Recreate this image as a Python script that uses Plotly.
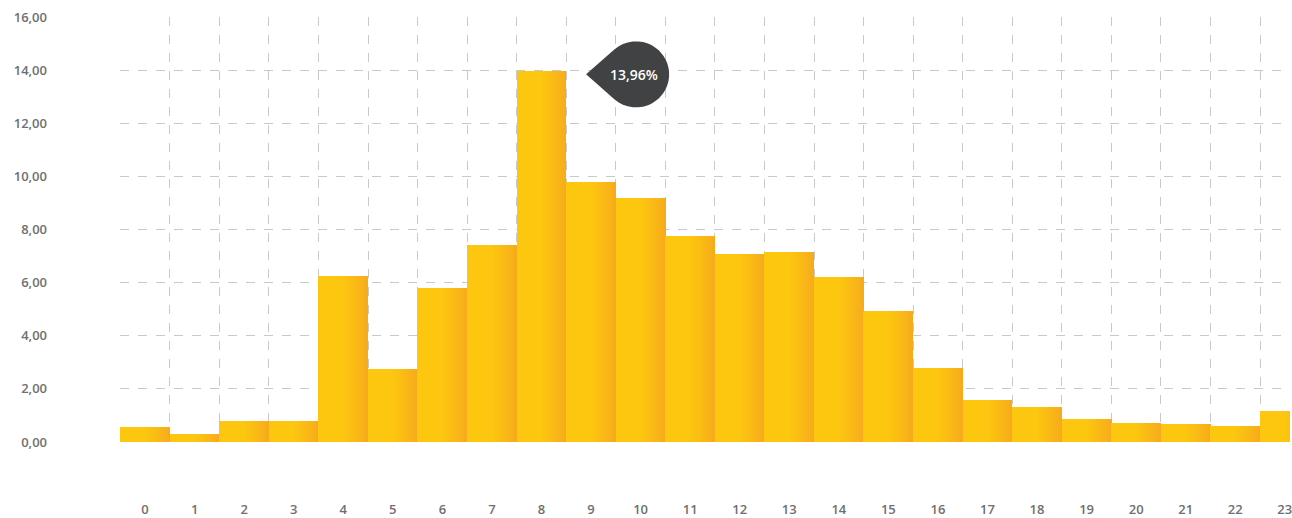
import numpy as np
import plotly.graph_objects as go

hours = list(range(24))
hour_labels = [str(h) for h in hours]
values = [0.56, 0.31, 0.80, 0.80, 6.24, 2.73, 5.81, 7.41, 13.96, 9.80, 9.17, 7.77,
          7.07, 7.14, 6.22, 4.94, 2.80, 1.59, 1.32, 0.86, 0.72, 0.67, 0.59, 1.17]
y_ticks = [0, 2, 4, 6, 8, 10, 12, 14, 16]
y_tick_text = ["0,00", "2,00", "4,00", "6,00", "8,00", "10,00", "12,00", "14,00", "16,00"]
peak_label = "13,96%"

peak_idx = int(np.argmax(values))

fig = go.Figure()

# horizontal gradient imitation: overlaid layers, left-aligned, narrowing
dark = np.array([0xF6, 0xAA, 0x1C])
light = np.array([0xFD, 0xC6, 0x0F])
n_layers = 18
for k in range(n_layers):
    frac = k / (n_layers - 1)
    w = 1.006 - 0.5 * frac
    c = dark + (light - dark) * frac ** 0.8
    fig.add_trace(go.Bar(
        x=hours, y=values, width=w, offset=-0.503,
        marker=dict(color="rgb(%d,%d,%d)" % tuple(int(round(v)) for v in c), line=dict(width=0)),
        hoverinfo="skip", showlegend=False,
    ))

# teardrop callout (pixel-sized, anchored in data coords)
tip_dx = 0.9
cx, r = 50.0, 33.0
th = np.arccos(r / cx)
angs = np.linspace(np.pi - th, -(np.pi - th), 60)
pts = [(cx + r * np.cos(-a), r * np.sin(-a)) for a in angs]
path = "M 0,0 " + " ".join(f"L {px:.2f},{py:.2f}" for px, py in pts) + " Z"
fig.add_shape(
    type="path", path=path,
    xsizemode="pixel", ysizemode="pixel",
    xanchor=peak_idx + tip_dx, yanchor=values[peak_idx] - 0.12,
    xref="x", yref="y",
    fillcolor="#414243", line=dict(width=0), layer="above",
)
fig.add_annotation(
    x=peak_idx + tip_dx, y=values[peak_idx] - 0.12, xref="x", yref="y",
    text=peak_label, showarrow=False, xshift=cx - 2, xanchor="center", yanchor="middle",
    font=dict(family="Open Sans", size=14, color="white", weight=600),
)

grid_col = "#c9c9c9"
tick_font = dict(family="Open Sans", size=13, color="#6f6f6f", weight=600)
fig.update_xaxes(
    range=[-0.506, 23.105],
    tickmode="array", tickvals=hours, ticktext=hour_labels,
    showgrid=False, zeroline=False, showline=False, ticks="",
    ticklabelstandoff=58, ticklabeloverflow="allow",
    tickfont=tick_font,
    minor=dict(tickmode="array", tickvals=[h - 0.5 for h in hours] + [23.5],
               showgrid=True, gridcolor=grid_col, griddash="dash", gridwidth=1),
    fixedrange=True,
)
fig.update_yaxes(
    range=[0, 16],
    tickmode="array", tickvals=y_ticks, ticktext=y_tick_text,
    showgrid=True, gridcolor=grid_col, griddash="dash", gridwidth=1,
    zeroline=False, showline=False, ticks="",
    ticklabelstandoff=72,
    tickfont=tick_font,
    fixedrange=True,
)
fig.update_layout(
    width=1292, height=518,
    margin=dict(l=120, r=0, t=17, b=73),
    paper_bgcolor="white", plot_bgcolor="white",
    barmode="overlay", bargap=0,
)
fig.write_html("out.html")
